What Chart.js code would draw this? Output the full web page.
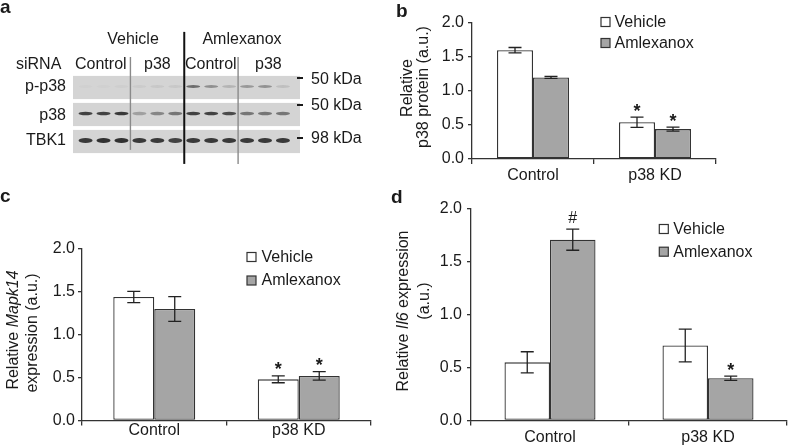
<!DOCTYPE html>
<html>
<head>
<meta charset="utf-8">
<script src="https://cdn.jsdelivr.net/npm/chart.js@4.4.1/dist/chart.umd.min.js"></script>
<style>
  body { margin: 0; width: 788px; height: 446px; position: relative; overflow: hidden; background: #fff;
         font-family: "Liberation Sans", Arial, sans-serif; color: #1a1a1a; }
  canvas { position: absolute; }
  .t { position: absolute; font-size: 16px; line-height: 1; white-space: nowrap; z-index: 2; }
  .lt { font-weight: bold; font-size: 19px; }
  .c { transform: translateX(-50%); }
  .r { transform: translateX(-100%); }
  .dash { position: absolute; width: 6px; height: 2px; background: #1a1a1a; }
</style>
</head>
<body>

<canvas id="blot" width="380" height="185" style="left:0;top:0"></canvas>
<canvas id="chartB" width="408" height="190" style="left:380px;top:0"></canvas>
<canvas id="chartC" width="390" height="256" style="left:0;top:190px"></canvas>
<canvas id="chartD" width="398" height="256" style="left:390px;top:190px"></canvas>

<div class="t lt" style="left:0;top:-3px">a</div>
<div class="t lt" style="left:396px;top:1px">b</div>
<div class="t lt" style="left:0;top:186px">c</div>
<div class="t lt" style="left:391px;top:187px">d</div>

<!-- blot labels -->
<div class="t c" style="left:133px;top:31px">Vehicle</div>
<div class="t c" style="left:242px;top:31px">Amlexanox</div>
<div class="t" style="left:16px;top:56px">siRNA</div>
<div class="t" style="left:75px;top:56px">Control</div>
<div class="t" style="left:144px;top:56px">p38</div>
<div class="t" style="left:185px;top:56px">Control</div>
<div class="t" style="left:255px;top:56px">p38</div>
<div class="t r" style="left:66px;top:78px">p-p38</div>
<div class="t r" style="left:66px;top:107px">p38</div>
<div class="t r" style="left:66px;top:132px">TBK1</div>
<div class="dash" style="left:297px;top:77px"></div>
<div class="dash" style="left:297px;top:104px"></div>
<div class="dash" style="left:297px;top:137px"></div>
<div class="t" style="left:311px;top:71px">50 kDa</div>
<div class="t" style="left:311px;top:97px">50 kDa</div>
<div class="t" style="left:311px;top:130px">98 kDa</div>

<script>
// ---- data ----
const groups = ['Control', 'p38 KD'];
const series = ['Vehicle', 'Amlexanox'];
const yTickVals = [0, 0.5, 1.0, 1.5, 2.0];

// b: relative p38 protein
const proteinVehicle = [1.60, 0.54];
const proteinVehicleErr = [0.04, 0.075];
const proteinAmlex = [1.20, 0.44];
const proteinAmlexErr = [0.015, 0.03];
const proteinMarks = [['', '*'], ['', '*']];

// c: relative Mapk14 expression
const mapk14Vehicle = [1.44, 0.48];
const mapk14VehicleErr = [0.065, 0.04];
const mapk14Amlex = [1.30, 0.52];
const mapk14AmlexErr = [0.145, 0.05];
const mapk14Marks = [['', '*'], ['', '*']];

// d: relative Il6 expression
const il6Vehicle = [0.55, 0.71];
const il6VehicleErr = [0.10, 0.155];
const il6Amlex = [1.71, 0.40];
const il6AmlexErr = [0.10, 0.02];
const il6Marks = [['', ''], ['#', '*']];

// a: western blot, band intensity per lane (0..1)
const lanes = [1, 2, 3, 4, 5, 6, 7, 8, 9, 10, 11, 12];
const blotRows = ['p-p38', 'p38', 'TBK1'];
const pp38Bands = [0.02, 0.02, 0.03, 0.05, 0.07, 0.07, 0.6, 0.4, 0.18, 0.35, 0.38, 0.12];
const p38Bands = [0.85, 0.85, 0.9, 0.3, 0.45, 0.55, 0.85, 0.85, 0.8, 0.55, 0.55, 0.55];
const tbk1Bands = [0.9, 0.95, 0.95, 0.9, 0.9, 0.85, 0.9, 0.9, 0.9, 0.9, 0.9, 0.9];

const FONT = '"Liberation Sans", Arial, sans-serif';
const textColor = '#1a1a1a';
const axisColor = '#333';
Chart.defaults.font.family = FONT;
Chart.defaults.font.size = 16;
Chart.defaults.color = textColor;

// error bars + significance marks
const errorBars = {
  id: 'errorBars',
  afterDatasetsDraw(chart) {
    const ctx = chart.ctx, y = chart.scales.y;
    chart.data.datasets.forEach((ds, i) => {
      chart.getDatasetMeta(i).data.forEach((bar, j) => {
        const v = ds.data[j], e = ds.err[j];
        const top = y.getPixelForValue(v + e), bot = y.getPixelForValue(v - e);
        ctx.save();
        ctx.strokeStyle = '#222';
        ctx.lineWidth = 1.3;
        ctx.beginPath();
        ctx.moveTo(bar.x, top); ctx.lineTo(bar.x, bot);
        ctx.moveTo(bar.x - 6.5, top); ctx.lineTo(bar.x + 6.5, top);
        ctx.moveTo(bar.x - 6.5, bot); ctx.lineTo(bar.x + 6.5, bot);
        ctx.stroke();
        const m = ds.marks[j];
        if (m) {
          ctx.fillStyle = textColor;
          ctx.textAlign = 'center';
          ctx.textBaseline = 'alphabetic';
          if (m === '*') {
            ctx.font = 'bold 18px ' + FONT;
            ctx.fillText(m, bar.x, top - 0.5);
          } else {
            ctx.font = '16px ' + FONT;
            ctx.fillText(m, bar.x, top - 6.5);
          }
        }
        ctx.restore();
      });
    });
  }
};

// legend with small boxes, placed inside the plot
const boxLegend = {
  id: 'boxLegend',
  afterDraw(chart, args, opts) {
    const ctx = chart.ctx;
    chart.data.datasets.forEach((ds, i) => {
      const cy = opts.y + i * opts.gap;
      ctx.save();
      ctx.fillStyle = ds.backgroundColor;
      ctx.fillRect(opts.x, cy - 4.5, 9, 9);
      ctx.strokeStyle = '#333';
      ctx.lineWidth = 1.2;
      ctx.strokeRect(opts.x, cy - 4.5, 9, 9);
      ctx.fillStyle = textColor;
      ctx.font = '16px ' + FONT;
      ctx.textBaseline = 'middle';
      ctx.fillText(ds.label, opts.x + opts.dx, cy + 0.5);
      ctx.restore();
    });
  }
};

// rotated y title, lines made of plain / italic pieces
const yTitle = {
  id: 'yTitle',
  afterDraw(chart, args, opts) {
    const ctx = chart.ctx;
    opts.lines.forEach(line => {
      ctx.save();
      ctx.translate(line.x, line.y);
      ctx.rotate(-Math.PI / 2);
      ctx.fillStyle = textColor;
      ctx.textBaseline = 'alphabetic';
      ctx.textAlign = 'left';
      let w = 0;
      line.segs.forEach(s => { ctx.font = (s[1] ? 'italic ' : '') + '16px ' + FONT; w += ctx.measureText(s[0]).width; });
      let x = -w / 2;
      line.segs.forEach(s => {
        ctx.font = (s[1] ? 'italic ' : '') + '16px ' + FONT;
        ctx.fillText(s[0], x, 0);
        x += ctx.measureText(s[0]).width;
      });
      ctx.restore();
    });
  }
};

function makeBarChart(id, vehicle, vehicleErr, amlex, amlexErr, marks, cfg) {
  const bar = (label, data, err, mk, fill) => ({
    label: label, data: data, err: err, marks: mk,
    backgroundColor: fill, borderColor: '#333', borderWidth: 1.3, borderSkipped: false,
    barPercentage: 1, categoryPercentage: cfg.cat
  });
  return new Chart(document.getElementById(id), {
    type: 'bar',
    data: {
      labels: groups,
      datasets: [
        bar(series[0], vehicle, vehicleErr, marks[0], '#ffffff'),
        bar(series[1], amlex, amlexErr, marks[1], '#a5a5a5')
      ]
    },
    options: {
      responsive: false,
      animation: false,
      devicePixelRatio: 1,
      layout: { padding: { top: cfg.top, right: cfg.right, left: 0, bottom: 0 } },
      plugins: {
        legend: { display: false },
        tooltip: { enabled: false },
        boxLegend: cfg.legend,
        yTitle: { lines: cfg.title }
      },
      scales: {
        x: {
          offset: true,
          grid: { offset: true, drawOnChartArea: false, drawTicks: true, tickLength: 5, color: axisColor, lineWidth: 1.3 },
          border: { display: true, color: axisColor, width: 1.3 },
          ticks: { color: textColor, padding: cfg.xPad, maxRotation: 0 },
          afterFit: s => { s.height = cfg.xH; }
        },
        y: {
          min: 0, max: 2,
          afterBuildTicks: s => { s.ticks = yTickVals.map(v => ({ value: v })); },
          grid: { drawOnChartArea: false, drawTicks: true, tickLength: 4, color: axisColor, lineWidth: 1.3 },
          border: { display: true, color: axisColor, width: 1.3 },
          ticks: { color: textColor, padding: cfg.yPad, callback: v => v.toFixed(1) },
          afterFit: s => { s.width = cfg.yW; }
        }
      }
    },
    plugins: [errorBars, boxLegend, yTitle]
  });
}

makeBarChart('chartB', proteinVehicle, proteinVehicleErr, proteinAmlex, proteinAmlexErr, proteinMarks, {
  cat: 0.59, top: 23, right: 72, yW: 92, xH: 31, xPad: 2, yPad: 4,
  legend: { x: 221, y: 22, gap: 21, dx: 13.5 },
  title: [
    { x: 31.7, y: 88, segs: [['Relative', false]] },
    { x: 48, y: 87, segs: [['p38 protein (a.u.)', false]] }
  ]
});

makeBarChart('chartC', mapk14Vehicle, mapk14VehicleErr, mapk14Amlex, mapk14AmlexErr, mapk14Marks, {
  cat: 0.567, top: 59, right: 19, yW: 82, xH: 25.5, xPad: -5, yPad: 3,
  legend: { x: 247, y: 67, gap: 23.5, dx: 14.5 },
  title: [
    { x: 18.2, y: 140, segs: [['Relative ', false], ['Mapk14', true]] },
    { x: 36.5, y: 143, segs: [['expression (a.u.)', false]] }
  ]
});

makeBarChart('chartD', il6Vehicle, il6VehicleErr, il6Amlex, il6AmlexErr, il6Marks, {
  cat: 0.576, top: 19, right: 1, yW: 81, xH: 25.5, xPad: 2, yPad: 5,
  legend: { x: 269.3, y: 39, gap: 22.7, dx: 14 },
  title: [
    { x: 18.2, y: 121, segs: [['Relative ', false], ['Il6', true], [' expression', false]] },
    { x: 39, y: 111, segs: [['(a.u.)', false]] }
  ]
});

// western blot drawn on a scatter chart: lanes on x, rows on y
const blotPlugin = {
  id: 'blotPlugin',
  beforeDatasetsDraw(chart) {
    const ctx = chart.ctx, xs = chart.scales.x, ys = chart.scales.y;
    const area = chart.chartArea;
    ctx.save();
    // membrane strips
    blotRows.forEach((row, r) => {
      const t = ys.getPixelForValue(r - 0.43), b = ys.getPixelForValue(r + 0.43);
      ctx.fillStyle = '#d4d4d4';
      ctx.fillRect(area.left, t, area.right - area.left, b - t);
    });
    // bands
    const heights = [2, 2.6, 4.2];
    ctx.filter = 'blur(0.6px)';
    chart.data.datasets.forEach((ds, r) => {
      chart.getDatasetMeta(r).data.forEach((pt, j) => {
        ctx.fillStyle = 'rgba(40,40,40,' + ds.bands[j] + ')';
        ctx.beginPath();
        ctx.ellipse(pt.x, pt.y - 1, 7, heights[r] / 2 + 0.4, 0, 0, Math.PI * 2);
        ctx.fill();
      });
    });
    ctx.filter = 'none';
    // lane separators
    const sep = (lane, y0, y1, color, w) => {
      ctx.strokeStyle = color;
      ctx.lineWidth = w;
      ctx.beginPath();
      ctx.moveTo(xs.getPixelForValue(lane), ys.getPixelForValue(y0));
      ctx.lineTo(xs.getPixelForValue(lane), ys.getPixelForValue(y1));
      ctx.stroke();
    };
    sep(3.5, -1.13, 2.31, '#8a8a8a', 1.4);
    sep(9.5, -1.13, 2.83, '#8a8a8a', 1.4);
    sep(6.5, -2.06, 2.83, '#111', 2);
    ctx.restore();
  }
};

const bandSets = [pp38Bands, p38Bands, tbk1Bands];
new Chart(document.getElementById('blot'), {
  type: 'scatter',
  data: {
    datasets: blotRows.map((row, r) => ({
      label: row,
      data: lanes.map(l => ({ x: l, y: r })),
      bands: bandSets[r],
      pointRadius: 0
    }))
  },
  options: {
    responsive: false,
    animation: false,
    devicePixelRatio: 1,
    layout: { padding: { left: 73, right: 80, top: 74, bottom: 30 } },
    plugins: { legend: { display: false }, tooltip: { enabled: false } },
    scales: {
      x: { type: 'linear', display: false, min: 0.3, max: 12.95 },
      y: { type: 'linear', display: false, min: -0.5, max: 2.5, reverse: true }
    }
  },
  plugins: [blotPlugin]
});
</script>
</body>
</html>
